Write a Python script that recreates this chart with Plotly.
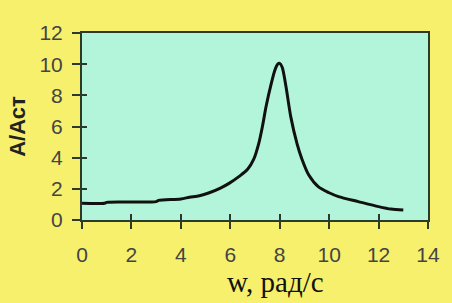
import plotly.graph_objects as go

# Data
w_values = [0, 0.9, 1.0, 2.0, 3.0, 3.1, 4.0, 4.35, 4.75, 5.15, 5.6, 5.95, 6.36, 6.7,
            6.95, 7.15, 7.3, 7.45, 7.65, 7.8, 7.92, 8.0, 8.1, 8.25, 8.45, 8.7, 8.9, 9.17,
            9.57, 10.0, 10.38, 11.18, 12.0, 12.5, 13.0]
a_values = [1.07, 1.07, 1.13, 1.15, 1.18, 1.26, 1.35, 1.46, 1.56, 1.75, 2.05, 2.35, 2.8, 3.25,
            3.9, 4.9, 6.0, 7.3, 8.7, 9.6, 10.0, 10.05, 9.8, 8.6, 6.6, 4.9, 3.9, 2.9,
            2.12, 1.75, 1.5, 1.18, 0.86, 0.7, 0.64]
x_ticks = [0, 2, 4, 6, 8, 10, 12, 14]
y_ticks = [0, 2, 4, 6, 8, 10, 12]

x_title = "w, рад/с"
y_title = "А/Аст"

fig = go.Figure()
fig.add_trace(go.Scatter(x=w_values, y=a_values, mode="lines",
                         line=dict(color="#111111", width=3, shape="spline", smoothing=0.8),
                         showlegend=False, hoverinfo="skip"))
# invisible trace on overlay axes for inside tick halves
fig.add_trace(go.Scatter(x=[0], y=[0], xaxis="x2", yaxis="y2", mode="markers",
                         marker=dict(opacity=0), showlegend=False, hoverinfo="skip"))

axis_font = dict(family="Liberation Sans, Arial, sans-serif", size=21, color="#444444")

fig.update_layout(
    width=452, height=303,
    margin=dict(l=82, r=22, t=33, b=83),
    paper_bgcolor="#F6F06C",
    plot_bgcolor="#B3F5DA",
    xaxis=dict(range=[0, 14], tickvals=x_ticks, ticktext=[str(v) for v in x_ticks],
               showgrid=False, zeroline=False, showline=True, linecolor="#2c3a2c",
               linewidth=2, mirror=True, ticks="outside", ticklen=7, tickwidth=2,
               tickcolor="#2c3a2c", tickfont=axis_font, ticklabelstandoff=8),
    yaxis=dict(range=[0, 12], tickvals=y_ticks, ticktext=[str(v) for v in y_ticks],
               showgrid=False, zeroline=False, showline=True, linecolor="#2c3a2c",
               linewidth=2, mirror=True, ticks="outside", ticklen=8, tickwidth=2,
               tickcolor="#2c3a2c", tickfont=axis_font, ticklabelstandoff=5),
    xaxis2=dict(range=[0, 14], tickvals=x_ticks, overlaying="x", showticklabels=False,
                showgrid=False, zeroline=False, ticks="inside", ticklen=6, tickwidth=2,
                tickcolor="#2c3a2c", side="bottom"),
    yaxis2=dict(range=[0, 12], tickvals=y_ticks, overlaying="y", showticklabels=False,
                showgrid=False, zeroline=False, ticks="inside", ticklen=5, tickwidth=2,
                tickcolor="#2c3a2c", side="left"),
    annotations=[
        dict(text=x_title, xref="paper", yref="paper", x=0.56, y=-0.33,
             xanchor="center", yanchor="middle", showarrow=False,
             font=dict(family="Liberation Serif, Times New Roman, serif", size=29, color="#111111")),
        dict(text="<b>" + y_title + "</b>", xref="paper", yref="paper", x=-0.187, y=0.5,
             xanchor="center", yanchor="middle", showarrow=False, textangle=-90,
             font=dict(family="Liberation Sans, Arial, sans-serif", size=22, color="#222222")),
    ],
)

fig.write_html("out.html")
